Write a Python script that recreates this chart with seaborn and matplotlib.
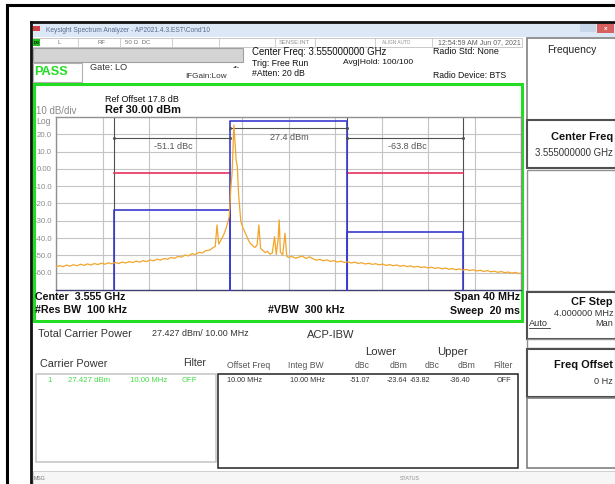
import matplotlib
matplotlib.use("Agg")
import matplotlib.pyplot as plt
from matplotlib.patches import Rectangle
import seaborn as sns
import pandas as pd

# ---------------- data ----------------
trace_freq_mhz = [
    3535.0, 3535.3, 3535.6, 3535.9, 3536.2, 3536.5, 3536.8, 3537.1, 3537.4, 3537.7,
    3538.0, 3538.3, 3538.6, 3538.9, 3539.2, 3539.5, 3539.8, 3540.1, 3540.4, 3540.7,
    3541.0, 3541.3, 3541.6, 3541.9, 3542.2, 3542.5, 3542.8, 3543.1, 3543.4, 3543.7,
    3544.0, 3544.3, 3544.6, 3544.9, 3545.2, 3545.5, 3545.8, 3546.1, 3546.4, 3546.7,
    3547.0, 3547.3, 3547.6, 3547.9, 3548.2, 3548.5, 3548.7, 3548.85, 3549.0, 3549.2,
    3549.4, 3549.6, 3549.8, 3549.9, 3550.05, 3550.15, 3550.3, 3550.4, 3550.5, 3550.6,
    3550.7, 3550.9, 3551.1, 3551.3, 3551.5, 3551.7, 3551.9, 3552.1, 3552.3, 3552.45,
    3552.6, 3552.8, 3553.0, 3553.2, 3553.4, 3553.6, 3553.8, 3553.95, 3554.1, 3554.2,
    3554.3, 3554.5, 3554.7, 3554.85, 3555.0, 3555.3, 3555.6, 3555.9, 3556.2, 3556.5,
    3556.8, 3557.1, 3557.4, 3557.7, 3558.0, 3558.3, 3558.6, 3558.9, 3559.2, 3559.5,
    3559.8, 3560.1, 3560.4, 3560.7, 3561.0, 3561.3, 3561.6, 3561.9, 3562.2, 3562.5,
    3562.8, 3563.1, 3563.4, 3563.7, 3564.0, 3564.3, 3564.6, 3564.9, 3565.2, 3565.5,
    3565.8, 3566.1, 3566.4, 3566.7, 3567.0, 3567.3, 3567.6, 3567.9, 3568.2, 3568.5,
    3568.8, 3569.1, 3569.4, 3569.7, 3570.0, 3570.3, 3570.6, 3570.9, 3571.2, 3571.5,
    3571.8, 3572.1, 3572.4, 3572.7, 3573.0, 3573.3, 3573.6, 3573.9, 3574.2, 3574.5,
    3574.8, 3575.0,
]
trace_dbm = [
    -56.8, -55.9, -56.5, -55.6, -56.2, -55.4, -56.0, -55.1, -55.8, -54.9,
    -55.6, -54.7, -55.3, -54.5, -55.1, -54.3, -54.9, -54.1, -54.7, -53.8,
    -54.4, -53.6, -54.1, -53.3, -53.9, -53.0, -53.6, -52.6, -53.1, -52.2,
    -52.7, -51.8, -52.2, -51.2, -51.7, -50.6, -51.0, -49.8, -50.3, -49.0,
    -49.5, -48.2, -48.6, -47.2, -47.0, -45.6, -44.8, -32.4, -43.5, -41.0,
    -38.5, -35.0, -30.5, -27.6, -10.0, -2.0, 25.4, 14.8, 5.0, 1.3,
    -14.1, -30.5, -34.5, -37.2, -40.5, -43.0, -44.2, -45.5, -44.0, -32.4,
    -46.0, -47.2, -48.4, -47.6, -49.3, -48.7, -39.2, -49.5, -41.0, -29.5,
    -48.0, -49.8, -37.2, -50.5, -51.2, -50.6, -51.6, -51.0, -50.4, -51.8,
    -50.8, -51.9, -52.8, -52.3, -53.1, -52.6, -53.5, -53.0, -53.8, -53.3,
    -54.1, -53.7, -54.4, -53.9, -54.7, -54.2, -55.0, -54.5, -55.2, -54.8,
    -55.5, -55.0, -55.8, -55.3, -56.0, -55.5, -56.3, -55.8, -56.5, -56.0,
    -56.8, -56.3, -57.0, -56.6, -57.3, -56.8, -57.5, -57.1, -57.8, -57.3,
    -58.0, -57.6, -58.3, -57.8, -58.5, -58.1, -58.8, -58.3, -59.0, -58.6,
    -59.3, -58.8, -59.5, -59.1, -59.8, -59.3, -60.0, -59.6, -60.3, -59.8,
    -60.5, -60.2,
]

center_mhz = 3555.0
span_mhz = 40.0
ref_level = 30.0
db_per_div = 10.0
y_tick_values = [20, 10, 0, -10, -20, -30, -40, -50, -60]
y_tick_labels = ["20.0", "10.0", "0.00", "-10.0", "-20.0", "-30.0", "-40.0", "-50.0", "-60.0"]

carrier_bw_mhz = 10.0
offset_mhz = 10.0
carrier_power_dbm = 27.427
lower_power_dbm = -23.64
upper_power_dbm = -36.40
limit_dbm = -2.2
carrier_label = "27.4 dBm"
lower_label = "-51.1 dBc"
upper_label = "-63.8 dBc"

table_headers = ["Offset Freq", "Integ BW", "dBc", "dBm", "dBc", "dBm", "Filter"]
table_row = ["10.00 MHz", "10.00 MHz", "-51.07", "-23.64", "-63.82", "-36.40", "OFF"]
carrier_row = ["1", "27.427 dBm", "10.00 MHz", "OFF"]

# ---------------- figure ----------------
W, H = 615, 484
fig = plt.figure(figsize=(W / 100, H / 100), dpi=100)
plt.rcParams['font.family'] = ['Liberation Sans', 'DejaVu Sans']

bg = fig.add_axes([0, 0, 1, 1])
bg.set_xlim(0, W)
bg.set_ylim(H, 0)
bg.axis("off")

def rect(x0, y0, x1, y1, ec="#808080", fc="none", lw=1.0, z=1):
    bg.add_patch(Rectangle((x0, y0), x1 - x0, y1 - y0, ec=ec, fc=fc, lw=lw, zorder=z))

def txt(x, y, s, size=6, ha="left", color="#222222", weight="normal", **kw):
    bg.text(x, y, s, fontsize=size, ha=ha, va="center", color=color,
            fontweight=weight, zorder=5, **kw)

# outer black frame
bg.plot([7, 7], [5, H], color="black", lw=2.2, zorder=3)
bg.plot([7, W], [5, 5], color="black", lw=2.2, zorder=3)
# window border
bg.plot([31, 31], [22, H], color="#111111", lw=2.0, zorder=3)
bg.plot([31, W], [22, 22], color="#111111", lw=2.0, zorder=3)

# title bar
rect(32, 23, W, 37, ec="none", fc="#dce8f5", z=1)
rect(33, 26, 40, 31, ec="none", fc="#d04040", z=2)
txt(46, 30, "Keysight Spectrum Analyzer - AP2021.4.3.EST\\Cond'10", size=4.8, color="#5a6a90")
rect(597, 23, 614, 33, ec="none", fc="#d86060", z=2)
txt(605.5, 28, "x", size=4.5, ha="center", color="white", weight="bold")
rect(580, 24, 596, 32, ec="none", fc="#c8d6ea", z=2)

# status row
rect(32, 38, 522, 47, ec="#c0c0c0", fc="white", lw=0.6)
rect(33, 39, 40, 46, ec="none", fc="#20c020", z=2)
txt(36.5, 42.5, "LXI", size=2.6, ha="center", color="black", weight="bold")
for sx in [78, 120, 172, 219, 275, 315, 375, 432]:
    bg.plot([sx, sx], [38, 47], color="#c8c8c8", lw=0.6, zorder=2)
txt(57, 43, "L", size=4.4, color="#707070")
txt(98, 43, "RF", size=4.4, color="#707070")
txt(125, 43, "50 Ω  DC", size=4.4, color="#707070")
txt(279, 43, "SENSE:INT", size=4.2, color="#909090")
txt(382, 43, "ALIGN AUTO", size=3.4, color="#909090")
txt(438, 43, "12:54:59 AM Jun 07, 2021", size=5.0, color="#606060")

# gray bar + pass box
rect(33, 48, 243, 62, ec="#a0a0a0", fc="#d4d4d4", lw=0.8)
rect(33, 63, 82, 82, ec="#b0b0b0", fc="white", lw=0.8)
txt(34, 72, "PASS", size=9.2, color="#22dd22", weight="bold")
txt(90, 67, "Gate: LO", size=6.6, color="#333333")
txt(185, 77, "IFGain:Low", size=5.9, color="#333333")
txt(233, 67, "-•-", size=5.0, color="#333333")
txt(252, 52, "Center Freq: 3.555000000 GHz", size=6.9, color="#111111")
txt(252, 63, "Trig: Free Run", size=6.3, color="#111111")
txt(343, 63, "Avg|Hold: 100/100", size=6.1, color="#111111")
txt(252, 74, "#Atten: 20 dB", size=6.3, color="#111111")
txt(433, 52, "Radio Std: None", size=6.4, color="#111111")
txt(433, 75, "Radio Device: BTS", size=6.2, color="#111111")

# green trace window
rect(33.5, 83.5, 521.5, 321, ec="#22dd22", fc="none", lw=2.2, z=4)
txt(105, 99, "Ref Offset 17.8 dB", size=6.5, color="#111111")
txt(105, 110, "Ref 30.00 dBm", size=7.9, color="#111111", weight="bold")
txt(36, 111, "10 dB/div", size=7.0, color="#8a8a8a")
txt(36, 121, "Log", size=6.2, color="#8a8a8a")

txt(35, 297, "Center  3.555 GHz", size=7.7, color="#111111", weight="bold")
txt(35, 310, "#Res BW  100 kHz", size=7.7, color="#111111", weight="bold")
txt(268, 310, "#VBW  300 kHz", size=7.7, color="#111111", weight="bold")
txt(520, 297, "Span 40 MHz", size=7.7, ha="right", color="#111111", weight="bold")
txt(520, 311, "Sweep  20 ms", size=7.7, ha="right", color="#111111", weight="bold")

# right soft-key panel
rect(527, 38, 616, 120, ec="#808080", fc="white", lw=1.2)
txt(572, 50, "Frequency", size=7.5, ha="center", color="#222222")
rect(527, 120, 616, 168, ec="#505050", fc="white", lw=1.5)
txt(613, 137, "Center Freq", size=7.9, ha="right", color="#111111", weight="bold")
txt(613, 153, "3.555000000 GHz", size=6.9, ha="right", color="#333333")
rect(527, 170, 616, 291, ec="#909090", fc="white", lw=1.0)
rect(527, 292, 616, 339, ec="#505050", fc="white", lw=1.5)
txt(613, 302, "CF Step", size=7.9, ha="right", color="#111111", weight="bold")
txt(613, 313, "4.000000 MHz", size=6.6, ha="right", color="#333333")
txt(529, 323, "Auto", size=6.6, color="#333333")
bg.plot([529, 550], [327.5, 327.5], color="#333333", lw=0.6, zorder=5)
txt(613, 323, "Man", size=6.6, ha="right", color="#333333")
rect(527, 339, 616, 348, ec="#909090", fc="white", lw=1.0)
rect(527, 349, 616, 397, ec="#505050", fc="white", lw=1.5)
txt(613, 365, "Freq Offset", size=7.9, ha="right", color="#111111", weight="bold")
txt(613, 381, "0 Hz", size=6.6, ha="right", color="#333333")
rect(527, 398, 616, 468, ec="#808080", fc="white", lw=1.2)

# result summary
txt(38, 334, "Total Carrier Power", size=7.8, color="#333333")
txt(152, 333, "27.427 dBm/ 10.00 MHz", size=6.4, color="#333333")
txt(307, 335, "ACP-IBW", size=8.0, color="#333333")
txt(365, 352, "Lower", size=8.2, color="#333333")
txt(437, 352, "Upper", size=8.2, color="#333333")
txt(40, 364, "Carrier Power", size=7.8, color="#333333")
txt(183, 363, "Filter", size=7.4, color="#333333")
hdr_x = [227, 288, 355, 390, 425, 458, 493]
for hx, hs in zip(hdr_x, table_headers):
    txt(hx, 366, hs, size=6.2, color="#555555")
rect(36, 374, 216, 462, ec="#c8c8c8", fc="white", lw=1.2)
for cx, cs in zip([47, 68, 130, 182], carrier_row):
    txt(cx, 381, cs, size=5.6, color="#44dd44")
rect(218, 374, 518, 468, ec="#222222", fc="white", lw=1.1)
row_x = [227, 290, 350, 387, 410, 450, 497]
for rx, rs in zip(row_x, table_row):
    txt(rx, 380, rs, size=5.2, color="#333333")

# bottom status bar
rect(33, 471, 616, 486, ec="#c8c8c8", fc="#f6f6f6", lw=0.6)
txt(34, 478, "MSG", size=3.8, color="#707070")
txt(400, 478, "STATUS", size=3.8, color="#909090")

# ---------------- spectrum axes ----------------
ax = fig.add_axes([56 / W, 1 - 290 / H, 465 / W, 173 / H])
ax.set_facecolor("white")
f0, f1 = center_mhz - span_mhz / 2, center_mhz + span_mhz / 2
ax.set_xlim(f0, f1)
ax.set_ylim(ref_level - 10 * db_per_div, ref_level)
ax.set_xticks([f0 + k * span_mhz / 10 for k in range(11)])
ax.set_xticklabels([])
ax.set_yticks(y_tick_values)
ax.set_yticklabels(y_tick_labels, fontsize=5.6, color="#8a8a8a")
ax.tick_params(length=0, pad=3)
ax.grid(True, color="#c4c4c4", lw=0.8)
ax.set_axisbelow(True)
for sp in ax.spines.values():
    sp.set_color("#909090")
    sp.set_linewidth(1.0)
ax.spines["bottom"].set_color("#404070")

lo0, lo1 = center_mhz - offset_mhz - carrier_bw_mhz / 2, center_mhz - offset_mhz + carrier_bw_mhz / 2
ca0, ca1 = center_mhz - carrier_bw_mhz / 2, center_mhz + carrier_bw_mhz / 2
up0, up1 = center_mhz + offset_mhz - carrier_bw_mhz / 2, center_mhz + offset_mhz + carrier_bw_mhz / 2
ybot = ref_level - 10 * db_per_div

# band edge lines
for xv in [lo0, up0, up1]:
    ax.axvline(xv, color="#505050", lw=0.8, zorder=2)

# limit lines
ax.plot([lo0, lo1], [limit_dbm, limit_dbm], color="#e8305a", lw=1.2, zorder=3)
ax.plot([up0, up1], [limit_dbm, limit_dbm], color="#e8305a", lw=1.2, zorder=3)

# blue power boxes
blue = "#3a3ad0"
for (a, b, p) in [(lo0, lo1, lower_power_dbm), (ca0, ca1, carrier_power_dbm), (up0, up1, upper_power_dbm)]:
    ax.plot([a, a, b, b], [ybot, p, p, ybot], color=blue, lw=1.2, zorder=3, clip_on=False)

# dimension lines
dim_c = "#505050"
ax.plot([lo0, lo1], [18.0, 18.0], color=dim_c, lw=0.8, marker="o", ms=1.2, zorder=3)
ax.plot([ca0, ca1], [23.6, 23.6], color=dim_c, lw=0.8, marker="o", ms=1.2, zorder=3)
ax.plot([up0, up1], [18.0, 18.0], color=dim_c, lw=0.8, marker="o", ms=1.2, zorder=3)
ax.text(3545.1, 12.7, lower_label, fontsize=6.5, ha="center", va="center", color="#555555", zorder=4)
ax.text(3555.1, 18.4, carrier_label, fontsize=6.5, ha="center", va="center", color="#555555", zorder=4)
ax.text(3565.2, 12.7, upper_label, fontsize=6.5, ha="center", va="center", color="#555555", zorder=4)

df = pd.DataFrame({"freq": trace_freq_mhz, "dbm": trace_dbm})
sns.lineplot(data=df, x="freq", y="dbm", ax=ax, color="#f2a52a", lw=0.9,
             estimator=None, sort=False, zorder=5)
ax.set_xlabel("")
ax.set_ylabel("")

fig.savefig("out.png", dpi=100)
